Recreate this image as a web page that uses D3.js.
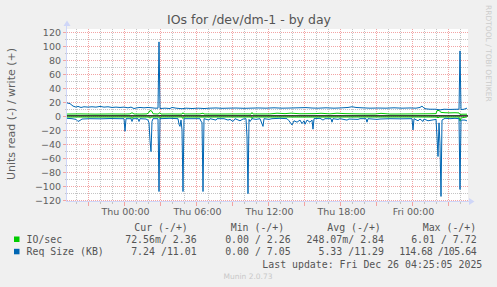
<!DOCTYPE html>
<html>
<head>
<meta charset="utf-8" />
<script src="https://cdn.jsdelivr.net/npm/d3@7"></script>
<style>
  body { margin: 0; background: #f0f0f0; }
  svg text { font-family: "DejaVu Sans", sans-serif; }
  svg text.mono { font-family: "DejaVu Sans Mono", monospace; white-space: pre; }
</style>
</head>
<body>
<div id="chart"></div>
<script>
// time window (day of december 2025 + time of day)
const timeRange = ["24 19:10", "26 04:35"];
const xTickTimes = ["25 00:00", "25 06:00", "25 12:00", "25 18:00", "26 00:00"];
const yTicks = [-120, -100, -80, -60, -40, -20, 0, 20, 40, 60, 80, 100, 120];
const yDomain = [-121.5, 124];

// IO/sec (read is drawn below zero, write above)
const ioRead = [
  ["24 19:10", 0.2], ["24 21:55", 0.3], ["25 00:00", 0.2], ["25 00:30", 0.3],
  ["25 00:35", 2.5], ["25 00:40", 0.2], ["25 02:00", 0.3], ["25 02:05", 2],
  ["25 02:10", 0.3], ["25 02:50", 0.3], ["25 02:55", 2.5], ["25 03:00", 0.2],
  ["25 04:45", 0.2], ["25 04:50", 2.5], ["25 04:55", 0.3], ["25 08:45", 0.2],
  ["25 10:30", 0.2], ["25 10:35", 2.5], ["25 10:40", 0.2], ["25 14:35", 0.3],
  ["25 19:35", 0.2], ["26 00:35", 0.2], ["26 02:00", 0.3], ["26 02:05", 1.5],
  ["26 02:10", 0.3], ["26 03:50", 0.2], ["26 03:55", 6], ["26 04:00", 1.5],
  ["26 04:30", 0.07],
];
const ioWrite = [
  ["24 19:10", 2.6], ["24 20:15", 2.8], ["24 21:30", 2.5], ["24 22:45", 2.7],
  ["25 00:00", 2.6], ["25 00:25", 2.8], ["25 00:35", 4.5], ["25 00:45", 2.7],
  ["25 01:15", 2.6], ["25 01:50", 2.8], ["25 02:00", 5], ["25 02:05", 7.7],
  ["25 02:15", 6.5], ["25 02:20", 3], ["25 02:45", 2.6], ["25 02:55", 4.5],
  ["25 03:00", 2.6], ["25 03:45", 2.7], ["25 04:45", 2.6], ["25 04:50", 4.5],
  ["25 04:55", 2.7], ["25 06:15", 2.8], ["25 06:30", 3.8], ["25 06:35", 2.7],
  ["25 07:30", 2.6], ["25 08:45", 2.7], ["25 10:15", 2.8], ["25 10:30", 2.6],
  ["25 10:35", 4.8], ["25 10:40", 2.7], ["25 12:05", 2.8], ["25 12:40", 3.8],
  ["25 13:20", 3.2], ["25 13:50", 3.9], ["25 14:35", 3], ["25 15:50", 3.2],
  ["25 16:20", 3.7], ["25 17:05", 2.9], ["25 17:40", 3.8], ["25 18:20", 3.2],
  ["25 19:35", 2.8], ["25 20:50", 2.7], ["25 21:20", 3.6], ["25 22:05", 2.6],
  ["25 23:20", 2.7], ["26 00:35", 2.9], ["26 01:25", 3], ["26 01:55", 3.2],
  ["26 02:00", 7.5], ["26 02:10", 7.7], ["26 02:20", 5], ["26 02:40", 4.5],
  ["26 03:05", 4.3], ["26 03:30", 4.5], ["26 03:50", 4.2], ["26 03:55", 2],
  ["26 04:05", 2.4], ["26 04:30", 2.4],
];

// Req Size (KB)
const reqRead = [
  ["24 19:10", 3.5], ["24 19:35", 4], ["24 19:55", 5], ["24 20:05", 8],
  ["24 20:15", 6.5], ["24 20:25", 4.5], ["24 21:05", 4], ["24 21:55", 4.2],
  ["24 22:45", 3.8], ["24 23:35", 4], ["24 23:55", 4], ["25 00:00", 22],
  ["25 00:05", 4], ["25 00:30", 4], ["25 00:35", 8], ["25 00:40", 4],
  ["25 01:05", 4], ["25 01:10", 8], ["25 01:15", 4], ["25 01:45", 4.5],
  ["25 01:55", 6], ["25 02:00", 10], ["25 02:05", 35], ["25 02:10", 51],
  ["25 02:15", 8], ["25 02:20", 4], ["25 02:45", 4], ["25 02:50", 108],
  ["25 02:55", 4], ["25 03:45", 3.5], ["25 04:25", 4], ["25 04:30", 12],
  ["25 04:35", 15], ["25 04:40", 6], ["25 04:45", 20], ["25 04:50", 108],
  ["25 04:55", 4], ["25 05:25", 4], ["25 06:15", 4], ["25 06:20", 8],
  ["25 06:25", 9], ["25 06:30", 108], ["25 06:35", 4], ["25 07:00", 6],
  ["25 07:05", 4], ["25 07:35", 6], ["25 07:40", 4], ["25 08:15", 4],
  ["25 08:35", 6], ["25 08:45", 5], ["25 09:00", 8], ["25 09:10", 4],
  ["25 09:35", 7], ["25 09:50", 4.5], ["25 10:05", 4], ["25 10:10", 30],
  ["25 10:15", 111], ["25 10:20", 5], ["25 10:25", 8], ["25 10:35", 4],
  ["25 10:55", 5], ["25 11:15", 4], ["25 11:30", 15], ["25 11:35", 4],
  ["25 12:00", 5], ["25 12:15", 4], ["25 12:55", 3.5], ["25 13:30", 4],
  ["25 13:40", 7], ["25 13:55", 13], ["25 14:05", 7], ["25 14:20", 9],
  ["25 14:35", 6], ["25 14:45", 11], ["25 14:55", 7], ["25 15:00", 12],
  ["25 15:10", 6], ["25 15:25", 9], ["25 15:35", 6], ["25 15:40", 19],
  ["25 15:45", 4], ["25 16:15", 3.5], ["25 16:30", 6], ["25 16:40", 4],
  ["25 17:10", 4], ["25 17:15", 9], ["25 17:20", 4], ["25 17:45", 5],
  ["25 17:55", 4], ["25 18:30", 6], ["25 18:40", 4.5], ["25 19:25", 5],
  ["25 19:35", 4], ["25 20:05", 4], ["25 20:10", 9], ["25 20:15", 4],
  ["25 21:00", 5], ["25 21:15", 4.5], ["25 22:05", 4], ["25 22:55", 4.2],
  ["25 23:45", 4], ["25 23:55", 4], ["26 00:00", 20], ["26 00:05", 4],
  ["26 00:25", 7], ["26 00:35", 4.5], ["26 00:50", 8], ["26 00:55", 4.5],
  ["26 01:15", 7], ["26 01:35", 6], ["26 01:55", 5], ["26 02:00", 30],
  ["26 02:05", 58], ["26 02:10", 10], ["26 02:15", 40], ["26 02:20", 115],
  ["26 02:25", 6], ["26 02:40", 3.5], ["26 03:05", 4], ["26 03:30", 3.5],
  ["26 03:50", 4], ["26 03:55", 105], ["26 04:00", 6], ["26 04:20", 6],
  ["26 04:30", 7.2],
];
const reqWrite = [
  ["24 19:10", 18.5], ["24 19:25", 17.5], ["24 19:40", 14], ["24 19:55", 12.5],
  ["24 20:05", 13.5], ["24 20:20", 12], ["24 20:35", 13], ["24 20:55", 12.5],
  ["24 21:15", 13], ["24 21:35", 12.5], ["24 21:55", 13.5], ["24 22:15", 12.5],
  ["24 22:35", 13], ["24 22:55", 12], ["24 23:15", 12.5], ["24 23:35", 12],
  ["24 23:55", 12.5], ["25 00:15", 11.5], ["25 00:30", 12.5], ["25 00:45", 10.5],
  ["25 01:00", 11.5], ["25 01:15", 12], ["25 01:35", 11.5], ["25 01:55", 12],
  ["25 02:15", 11.5], ["25 02:30", 11], ["25 02:45", 11], ["25 02:50", 105.6],
  ["25 02:55", 10.5], ["25 03:20", 11], ["25 03:45", 10.5], ["25 03:55", 12],
  ["25 04:15", 11], ["25 04:45", 10.2], ["25 05:05", 11], ["25 05:35", 10.5],
  ["25 06:05", 11], ["25 06:35", 10.5], ["25 07:05", 11], ["25 07:35", 11.3],
  ["25 08:05", 10.8], ["25 08:35", 11], ["25 09:15", 11.2], ["25 09:55", 10.8],
  ["25 10:25", 11], ["25 11:05", 11.3], ["25 11:45", 11], ["25 12:25", 11.5],
  ["25 13:05", 11], ["25 13:45", 11.2], ["25 14:25", 11.5], ["25 15:05", 11.8],
  ["25 15:35", 11.2], ["25 16:05", 11], ["25 16:45", 11.5], ["25 17:25", 11],
  ["25 17:55", 11.3], ["25 18:35", 12], ["25 18:55", 13], ["25 19:15", 12],
  ["25 19:45", 11.5], ["25 20:25", 11], ["25 21:05", 11.2], ["25 21:45", 11],
  ["25 22:25", 11.5], ["25 23:05", 11], ["25 23:45", 11.3], ["26 00:15", 11],
  ["26 00:35", 12], ["26 00:45", 14], ["26 00:55", 11], ["26 01:05", 10],
  ["26 01:25", 9.5], ["26 01:55", 9.5], ["26 02:15", 8.5], ["26 02:35", 9.5],
  ["26 03:05", 9.2], ["26 03:30", 9.4], ["26 03:50", 9.5], ["26 03:55", 92.7],
  ["26 04:00", 9], ["26 04:15", 9.5], ["26 04:30", 11],
];

const legendHeaders = ["Cur (-/+)", "Min (-/+)", "Avg (-/+)", "Max (-/+)"];
const legendNames = ["IO/sec", "Req Size (KB)"];
const ioValues = ["72.56m/ 2.36", "0.00 / 2.26", "248.07m/ 2.84", "6.01 / 7.72"];
const reqValues = ["7.24 /11.01", "0.00 / 7.05", "5.33 /11.29", "114.68 /105.64"];
const lastUpdate = "Last update: Fri Dec 26 04:25:05 2025";

const green = "#00cc00",
  blue = "#0066b3",
  fontColor = "#606060",
  axisColor = "#cfd6f8",
  majorGrid = "#f2a4a4",
  minorGrid = "#c4c4c4";

const parseTime = d3.timeParse("%Y-%m-%d %H:%M");
const toDate = (s) => parseTime("2025-12-" + s);
const toPoints = (arr) => arr.map(([t, v]) => ({ t: toDate(t), v: v }));

const width = 497,
  height = 287;
const plot = { left: 67, right: 468, top: 29, bottom: 201 };

const svg = d3
  .select("#chart")
  .append("svg")
  .attr("width", width)
  .attr("height", height)
  .style("display", "block");

svg.append("rect").attr("width", width).attr("height", height).attr("fill", "#f0f0f0");

const x = d3.scaleTime().domain(timeRange.map(toDate)).range([plot.left, plot.right]);
const y = d3.scaleLinear().domain(yDomain).range([plot.bottom, plot.top]);

// canvas
svg
  .append("rect")
  .attr("x", plot.left)
  .attr("y", plot.top)
  .attr("width", plot.right - plot.left)
  .attr("height", plot.bottom - plot.top)
  .attr("fill", "#fff");

// grid: hours (red every 3h), units (red every 20)
const grid = svg.append("g").attr("shape-rendering", "crispEdges");
const hours = d3.timeHour.range(x.domain()[0], x.domain()[1]);
const yLines = d3.range(-120, 121, 10);

const drawGrid = (major) => {
  hours
    .filter((h) => (h.getHours() % 3 === 0) === major)
    .forEach((h) => {
      const px = Math.round(x(h)) - 0.5;
      grid
        .append("line")
        .attr("x1", px)
        .attr("x2", px)
        .attr("y1", plot.top)
        .attr("y2", plot.bottom)
        .attr("stroke", major ? majorGrid : minorGrid)
        .attr("stroke-dasharray", "1,1");
      grid
        .append("line")
        .attr("x1", px)
        .attr("x2", px)
        .attr("y1", plot.bottom)
        .attr("y2", plot.bottom + (major ? 5 : 3))
        .attr("stroke", major ? majorGrid : minorGrid);
    });
  yLines
    .filter((v) => (v % 20 === 0) === major)
    .forEach((v) => {
      const py = Math.round(y(v)) + 0.5;
      grid
        .append("line")
        .attr("x1", plot.left)
        .attr("x2", plot.right)
        .attr("y1", py)
        .attr("y2", py)
        .attr("stroke", major ? majorGrid : minorGrid)
        .attr("stroke-dasharray", "1,1");
      grid
        .append("line")
        .attr("x1", plot.left - (major ? 4 : 2))
        .attr("x2", plot.left)
        .attr("y1", py)
        .attr("y2", py)
        .attr("stroke", major ? majorGrid : minorGrid);
    });
};
drawGrid(false);
drawGrid(true);

// axes with arrows
svg
  .append("path")
  .attr("d", `M${plot.left - 0.5},${plot.bottom + 1} V23 M${plot.left},${plot.bottom + 0.5} H471`)
  .attr("stroke", axisColor)
  .attr("fill", "none")
  .attr("shape-rendering", "crispEdges");
svg
  .append("path")
  .attr("d", "M63.5,26 L70.5,26 L67,20.5 Z M469,198 L469,205 L474.5,201.5 Z")
  .attr("fill", axisColor);

// zero line
svg
  .append("line")
  .attr("x1", plot.left)
  .attr("x2", plot.right)
  .attr("y1", y(0))
  .attr("y2", y(0))
  .attr("stroke", "#000")
  .attr("stroke-width", 1.3);

const upLine = d3
  .line()
  .x((d) => x(d.t))
  .y((d) => y(d.v));
const downLine = d3
  .line()
  .x((d) => x(d.t))
  .y((d) => y(-d.v));

const series = [
  { data: ioRead, line: downLine, color: green, shift: 1 },
  { data: ioWrite, line: upLine, color: green, shift: 0 },
  { data: reqRead, line: downLine, color: blue, shift: 0 },
  { data: reqWrite, line: upLine, color: blue, shift: 0 },
];
series.forEach((s) => {
  svg
    .append("path")
    .attr("transform", `translate(0,${s.shift})`)
    .attr("d", s.line(toPoints(s.data)))
    .attr("fill", "none")
    .attr("stroke", s.color)
    .attr("stroke-width", 1);
});

// tick labels
const yAxis = svg
  .append("g")
  .attr("transform", `translate(${plot.left},0)`)
  .call(d3.axisLeft(y).tickValues(yTicks).tickSize(0).tickPadding(6));
const xAxis = svg
  .append("g")
  .attr("transform", `translate(0,${plot.bottom})`)
  .call(
    d3
      .axisBottom(x)
      .tickValues(xTickTimes.map(toDate))
      .tickFormat(d3.timeFormat("%a %H:%M"))
      .tickSize(0)
      .tickPadding(7.5)
  );
[yAxis, xAxis].forEach((a) => {
  a.select(".domain").remove();
  a.selectAll("text")
    .attr("fill", fontColor)
    .style("font-size", "9.5px")
    .style("font-family", '"DejaVu Sans", sans-serif');
});
yAxis.selectAll("text").attr("dy", "0.37em");

// title and unit label
svg
  .append("text")
  .attr("x", 249)
  .attr("y", 24)
  .attr("text-anchor", "middle")
  .attr("fill", "#555")
  .style("font-size", "12.5px")
  .text("IOs for /dev/dm-1 - by day");
svg
  .append("text")
  .attr("transform", "translate(14.5,114) rotate(-90)")
  .attr("text-anchor", "middle")
  .attr("fill", fontColor)
  .style("font-size", "11px")
  .text("Units read (-) / write (+)");
svg
  .append("text")
  .attr("transform", "translate(486,5) rotate(90)")
  .attr("fill", "#cccccc")
  .style("font-size", "7.5px")
  .text("RRDTOOL / TOBI OETIKER");

// legend (values sit in fixed slots: read part, then 5 cells for write)
const cw = 5.96;
const colEnds = [196.7, 290.7, 384, 476.7];
const headerStarts = [134.3, 230.7, 327.3, 422.7];
const legend = svg.append("g").attr("fill", "#555").style("font-size", "9.9px");

legendHeaders.forEach((h, i) => {
  legend.append("text").attr("class", "mono").attr("x", headerStarts[i]).attr("y", 231).text(h);
});

[ioValues, reqValues].forEach((vals, r) => {
  const rowY = 243 + r * 12.3;
  legend
    .append("rect")
    .attr("x", 14)
    .attr("y", rowY - 6.5)
    .attr("width", 5.5)
    .attr("height", 5.5)
    .attr("fill", r === 0 ? green : blue);
  legend.append("text").attr("class", "mono").attr("x", 26.5).attr("y", rowY).text(legendNames[r]);
  vals.forEach((v, i) => {
    const cut = v.indexOf("/") + 1;
    legend
      .append("text")
      .attr("class", "mono")
      .attr("x", colEnds[i])
      .attr("y", rowY)
      .attr("text-anchor", "end")
      .attr("textLength", (cut + 5) * cw)
      .attr("lengthAdjust", "spacing")
      .text(v);
  });
});

legend
  .append("text")
  .attr("class", "mono")
  .attr("x", 482.3)
  .attr("y", 267.5)
  .attr("text-anchor", "end")
  .text(lastUpdate);

svg
  .append("text")
  .attr("x", 248)
  .attr("y", 278.5)
  .attr("text-anchor", "middle")
  .attr("fill", "#c8c8c8")
  .style("font-size", "7.5px")
  .text("Munin 2.0.73");
</script>
</body>
</html>
